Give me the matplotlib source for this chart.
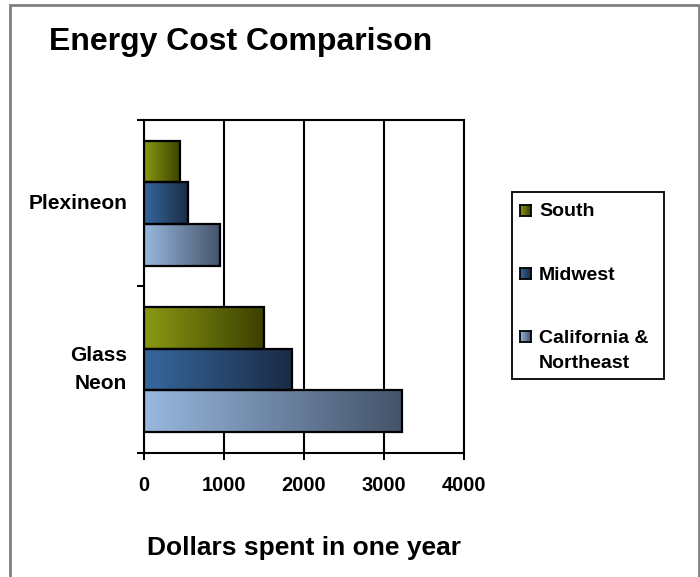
import matplotlib
matplotlib.use("Agg")
import matplotlib.pyplot as plt
import numpy as np
from matplotlib.colors import LinearSegmentedColormap
from matplotlib.patches import Rectangle

categories = ["Glass\nNeon", "Plexineon"]
series_names = ["South", "Midwest", "California &\nNortheast"]
south = [1500, 455]
midwest = [1855, 555]
california = [3230, 955]
x_ticks = [0, 1000, 2000, 3000, 4000]

# left (light) -> right (dark) gradient per series
grad_colors = [
    ("#8a9a12", "#3b4000"),
    ("#36689c", "#1a2b45"),
    ("#98b8de", "#44536a"),
]

W, H = 700, 577
plt.rcParams["font.family"] = ["Liberation Sans", "DejaVu Sans"]

fig = plt.figure(figsize=(W / 100, H / 100), dpi=100)
ax = fig.add_axes([144 / W, 1 - 452.7 / H, 320 / W, 332.7 / H])

ramp = np.linspace(0, 1, 256).reshape(1, -1)
y = np.arange(len(categories))
h = 0.25
offsets = [h, 0, -h]
cmaps = [LinearSegmentedColormap.from_list("g%d" % i, c) for i, c in enumerate(grad_colors)]
for vals, off, cmap in zip([south, midwest, california], offsets, cmaps):
    bars = ax.barh(y + off, vals, height=h, color="none", edgecolor="black",
                   linewidth=1.6, zorder=3)
    for b in bars:
        x0, y0, w, hh = b.get_x(), b.get_y(), b.get_width(), b.get_height()
        ax.imshow(ramp, cmap=cmap, aspect="auto", extent=(x0, x0 + w, y0, y0 + hh),
                  zorder=2, interpolation="bilinear")

ax.set_xlim(0, 4000)
ax.set_ylim(-0.5, 1.5)
ax.set_xticks(x_ticks)
ax.set_xticklabels([str(t) for t in x_ticks], fontsize=14.5, fontweight="bold")
ax.set_yticks([-0.5, 0.5, 1.5])
ax.set_yticklabels([])
ax.set_yticks(y, minor=True)
ax.set_yticklabels(categories, minor=True, fontsize=15, fontweight="bold",
                   ha="right", va="center", linespacing=1.55)
ax.tick_params(axis="y", which="minor", length=0, pad=12)
ax.tick_params(axis="y", which="major", length=5, width=1.5, direction="out")
ax.tick_params(axis="x", length=5, width=1.5, direction="out", pad=12)
ax.grid(axis="x", color="black", linewidth=1.5, zorder=1)
ax.set_axisbelow(True)
for s in ax.spines.values():
    s.set_linewidth(1.5)
    s.set_color("black")

ax.set_xlabel("Dollars spent in one year", fontsize=19, fontweight="bold", labelpad=29)
fig.text(49 / W, 1 - 42 / H, "Energy Cost Comparison", fontsize=23,
         fontweight="bold", va="center", ha="left")

# legend drawn by hand to match the box layout
fig.patches.append(Rectangle((512 / W, 1 - 379 / H), 152 / W, 187.5 / H,
                             transform=fig.transFigure, fill=False,
                             edgecolor="black", linewidth=1.3))
legend_y = [211, 274, 350]
for name, cmap, ly in zip(series_names, cmaps, legend_y):
    my = ly if "\n" not in name else 337
    max_ = fig.add_axes([520 / W, 1 - (my + 5) / H, 11 / W, 11 / H])
    max_.imshow(ramp, cmap=cmap, aspect="auto", interpolation="bilinear")
    max_.set_xticks([])
    max_.set_yticks([])
    for s in max_.spines.values():
        s.set_linewidth(1.3)
    fig.text(539 / W, 1 - (ly + 1) / H, name, fontsize=14, fontweight="bold",
             va="center", ha="left", linespacing=1.55)

fig.patches.append(Rectangle((10 / W, -0.05), 688.5 / W, 1.05 - 5 / H,
                             transform=fig.transFigure, fill=False,
                             edgecolor="#808080", linewidth=2))

fig.savefig("out.png", dpi=100)
